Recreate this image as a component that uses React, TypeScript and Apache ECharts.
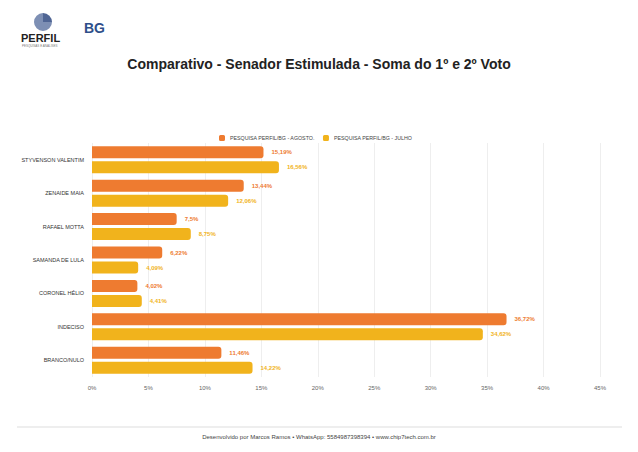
import { useEffect, useRef } from "react";
import * as echarts from "echarts";

const candidates = [
  "STYVENSON VALENTIM",
  "ZENAIDE MAIA",
  "RAFAEL MOTTA",
  "SAMANDA DE LULA",
  "CORONEL HÉLIO",
  "INDECISO",
  "BRANCO/NULO",
];
const agosto = [15.19, 13.44, 7.5, 6.22, 4.02, 36.72, 11.46];
const julho = [16.56, 12.06, 8.75, 4.09, 4.41, 34.62, 14.22];
const seriesNames = ["PESQUISA PERFIL/BG - AGOSTO.", "PESQUISA PERFIL/BG - JULHO"];
const colors = ["#ee7b30", "#f1b31c"];

const fmt = (v: number) => String(v).replace(".", ",") + "%";

const App: React.FC = () => {
  const chartRef = useRef<HTMLDivElement>(null);

  useEffect(() => {
    if (!chartRef.current) return;
    const myChart = echarts.init(chartRef.current, null, { renderer: "svg" });

    const mkSeries = (name: string, data: number[], color: string) => ({
      name,
      type: "bar",
      data,
      barWidth: 12,
      barGap: "25%",
      itemStyle: { color, borderRadius: [0, 3, 3, 0] },
      label: {
        show: true,
        position: "right",
        distance: 8,
        color,
        fontSize: 6,
        fontWeight: "bold",
        formatter: (p: any) => fmt(p.value),
      },
    });

    myChart.setOption({
      animation: false,
      textStyle: { fontFamily: "Arial, Liberation Sans, sans-serif" },
      title: {
        text: "Comparativo - Senador Estimulada - Soma do 1º e 2º Voto",
        left: "center",
        top: 52,
        textStyle: { fontSize: 14, fontWeight: "bold", color: "#222" },
      },
      legend: {
        top: 130,
        left: 214,
        itemWidth: 6,
        itemHeight: 6,
        itemGap: 8,
        textStyle: { fontSize: 5.3, color: "#444" },
        data: seriesNames.map((n) => ({ name: n, icon: "roundRect" })),
      },
      grid: { left: 92, right: 38, top: 143, bottom: 75, containLabel: false },
      xAxis: {
        type: "value",
        min: 0,
        max: 45,
        interval: 5,
        axisLabel: { formatter: "{value}%", fontSize: 6, color: "#666" },
        splitLine: { lineStyle: { color: "#eee" } },
      },
      yAxis: {
        type: "category",
        data: candidates,
        inverse: true,
        axisTick: { show: false },
        axisLine: { show: false },
        axisLabel: { fontSize: 5.5, color: "#333", margin: 8 },
      },
      series: [
        mkSeries(seriesNames[0], agosto, colors[0]),
        mkSeries(seriesNames[1], julho, colors[1]),
      ],
      graphic: [
        { type: "sector", shape: { cx: 43, cy: 22, r: 9, startAngle: 0, endAngle: Math.PI * 1.5 }, style: { fill: "#7d8fb4" } },
        { type: "sector", shape: { cx: 43, cy: 22, r: 9, startAngle: Math.PI * 1.5, endAngle: Math.PI * 2 }, style: { fill: "#4f6594" } },
        { type: "text", x: 21, y: 32, style: { text: "PERFIL", fontSize: 11, fontWeight: 900, fill: "#222", fontFamily: "Arial" } },
        { type: "text", x: 22, y: 44, style: { text: "PESQUISAS E ANÁLISES", fontSize: 3, fill: "#777" } },
        { type: "text", x: 84, y: 21, style: { text: "BG", fontSize: 14, fontWeight: "bold", fill: "#2e4f8a", fontFamily: "Arial" } },
        { type: "line", shape: { x1: 17, y1: 427, x2: 622, y2: 427 }, style: { stroke: "#ddd", lineWidth: 1 } },
        {
          type: "text",
          left: "center",
          top: 434,
          style: {
            text: "Desenvolvido por Marcos Ramos • WhatsApp: 5584987398394 • www.chip7tech.com.br",
            fontSize: 6,
            fill: "#444",
          },
        },
      ],
    });

    return () => myChart.dispose();
  }, []);

  return (
    <div
      ref={chartRef}
      style={{ position: "absolute", left: 0, top: 0, width: "638px", height: "452px", background: "#fff" }}
    />
  );
};

export default App;
